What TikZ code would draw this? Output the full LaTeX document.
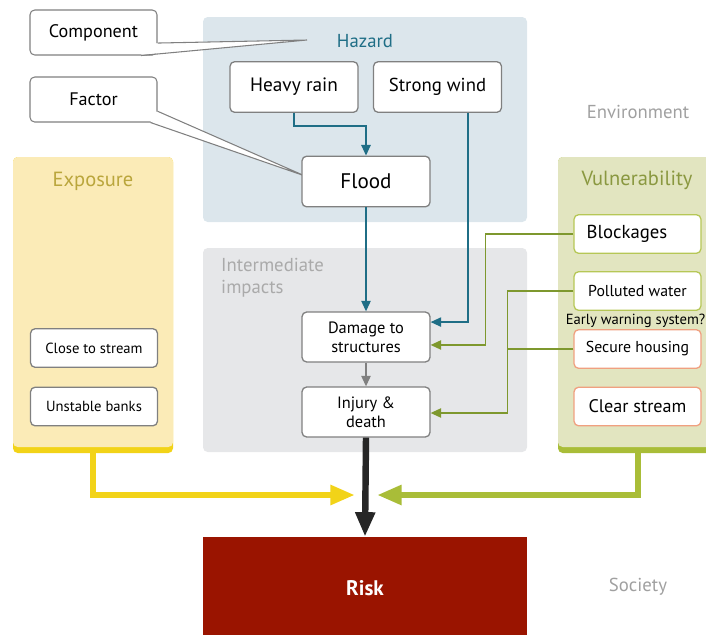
\documentclass[tikz,border=0pt]{standalone}
\usepackage{fontspec}
\setmainfont{PT Sans}
\usetikzlibrary{arrows.meta}

\definecolor{hazardbg}{RGB}{220,230,236}
\definecolor{impactbg}{RGB}{230,231,233}
\definecolor{exposebg}{RGB}{251,235,183}
\definecolor{exposeln}{RGB}{242,211,24}
\definecolor{exposetx}{RGB}{186,166,60}
\definecolor{vulnbg}{RGB}{226,229,192}
\definecolor{vulnln}{RGB}{169,189,56}
\definecolor{vulntx}{RGB}{138,152,64}
\definecolor{greenln}{RGB}{126,152,46}
\definecolor{orangeln}{RGB}{240,160,128}
\definecolor{tealln}{RGB}{31,110,134}
\definecolor{riskbg}{RGB}{154,20,0}
\definecolor{boxgray}{RGB}{128,128,128}
\definecolor{softgray}{RGB}{160,160,160}

\begin{document}
\begin{tikzpicture}[x=0.03cm,y=-0.03cm,
		box/.style={shape=rectangle, rounded corners=4pt, draw=boxgray, line width=1.1pt,
			fill=white, align=center, minimum width=3.84cm, minimum height=1.52cm, inner sep=1pt},
		smallbox/.style={box, minimum width=3.81cm, minimum height=1.16cm},
		greenbox/.style={smallbox, draw=vulnln!85},
		orangebox/.style={smallbox, draw=orangeln},
		callbox/.style={box, minimum width=3.81cm, minimum height=1.35cm, line width=0.9pt},
		zone/.style={rounded corners=4pt},
		zonelabel/.style={font=\fontsize{16}{18}\selectfont},
		link/.style={-{Triangle[width=8pt,length=9pt]}, line width=1.2pt},
		feed/.style={-{Triangle[width=16pt,length=21pt]}, line width=5.5pt}]
	\useasboundingbox (0,0) rectangle (706,634);

	% zones
	\fill[zone, hazardbg] (203,17) rectangle (527,222);
	\fill[zone, impactbg] (203,248) rectangle (527,452);
	\fill[zone, exposeln] (13,157) rectangle (173,453);
	\fill[zone, exposebg] (13,157) rectangle (173,447);
	\fill[zone, vulnln] (558,157) rectangle (712,453);
	\fill[zone, vulnbg] (558,157) rectangle (712,447);

	\node[zonelabel, text=tealln] (hazard) at (365,41) {Hazard};
	\node[zonelabel, text=exposetx, font=\fontsize{17.5}{19}\selectfont] (exposure) at (93,181) {Exposure};
	\node[zonelabel, text=vulntx, font=\fontsize{17.5}{19}\selectfont] (vuln) at (637,180) {Vulnerability};
	\node[zonelabel, text=softgray!90, align=left, anchor=north west, inner sep=0pt] (inter) at (221,258)
		{Intermediate\\[1pt]impacts};
	\node[zonelabel, text=softgray] (environment) at (638,112) {Environment};
	\node[zonelabel, text=softgray] (society) at (638,587) {Society};

	% callouts
	\node[callbox, font=\fontsize{15.5}{17}\selectfont] (comp) at (93.5,32.5) {Component};
	\node[callbox, font=\fontsize{15.5}{17}\selectfont] (fact) at (93.5,99.5) {Factor};
	\coordinate (comptip) at (307,40);
	\coordinate (facttip) at (305,176);
	\fill[white] ([xshift=-0.6pt,yshift=-9pt]comp.east) -- (comptip) -- ([xshift=-14pt,yshift=0.6pt]comp.south east) -- cycle;
	\draw[boxgray, line width=0.9pt] ([yshift=-9pt]comp.east) -- (comptip) -- ([xshift=-14pt]comp.south east);
	\fill[white] ([xshift=-0.6pt,yshift=-10pt]fact.east) -- (facttip) -- ([xshift=-6pt,yshift=0.6pt]fact.south east) -- cycle;
	\draw[boxgray, line width=0.9pt] ([yshift=-10pt]fact.east) -- (facttip) -- ([xshift=-6pt]fact.south east);

	% hazard factors
	\node[box, font=\fontsize{16.5}{18}\selectfont] (rain) at (294,87) {Heavy rain};
	\node[box, font=\fontsize{16}{18}\selectfont] (wind) at (437.5,87) {Strong wind};
	\node[box, font=\fontsize{18}{20}\selectfont] (flood) at (366,181.5) {Flood};

	% impacts
	\node[box, minimum height=1.5cm, font=\fontsize{14}{16}\selectfont] (damage) at (366,337) {Damage to\\structures};
	\node[box, minimum height=1.5cm, font=\fontsize{14}{16}\selectfont] (injury) at (366,412) {Injury \&\\death};

	% exposure factors
	\node[smallbox, font=\fontsize{12.5}{14}\selectfont] (close) at (94,348) {Close to stream};
	\node[smallbox, font=\fontsize{12.5}{14}\selectfont] (banks) at (94,406.5) {Unstable banks};

	% vulnerability factors
	\node[greenbox, font=\fontsize{16}{18}\selectfont] (block) at (637.5,234) {\hspace*{-18pt}Blockages};
	\node[greenbox, font=\fontsize{13.5}{15}\selectfont] (polluted) at (637.5,291) {Polluted water};
	\node[font=\fontsize{12.5}{14}\selectfont, inner sep=0pt] (early) at (635.5,321) {Early warning system?};
	\node[orangebox, font=\fontsize{13.5}{15}\selectfont] (secure) at (637.5,349) {Secure housing};
	\node[orangebox, font=\fontsize{15.5}{17}\selectfont] (clear) at (637.5,406.5) {Clear stream};

	% risk
	\node[shape=rectangle, fill=riskbg, text=white, minimum width=9.72cm, minimum height=3.09cm,
		font=\fontsize{18}{20}\selectfont\bfseries] (risk) at (365,588.5) {Risk};

	% links
	\draw[link, tealln] (rain.south) -- ++(0,13) -| (flood.north);
	\draw[link, tealln] (flood.south) -- (damage.north);
	\draw[link, tealln] ([xshift=26pt]wind.south) |- ([yshift=12.75pt]damage.east);
	\draw[link, greenln] (block.west) -- ++(-88,0) |- ([yshift=-6.8pt]damage.east);
	\draw[link, greenln] (polluted.west) -- ++(-66,0) |- ([yshift=-0.85pt]injury.east);
	\draw[greenln, line width=1.2pt] (secure.west) -- ++(-66,0);
	\draw[link, boxgray] (damage.south) -- (injury.north);
	\draw[feed, black!85] (injury.south) -- (risk.north);
	\draw[feed, exposeln] (93,453) |- (355,495);
	\draw[feed, vulnln] (638,453) |- (377,495);
\end{tikzpicture}
\end{document}
